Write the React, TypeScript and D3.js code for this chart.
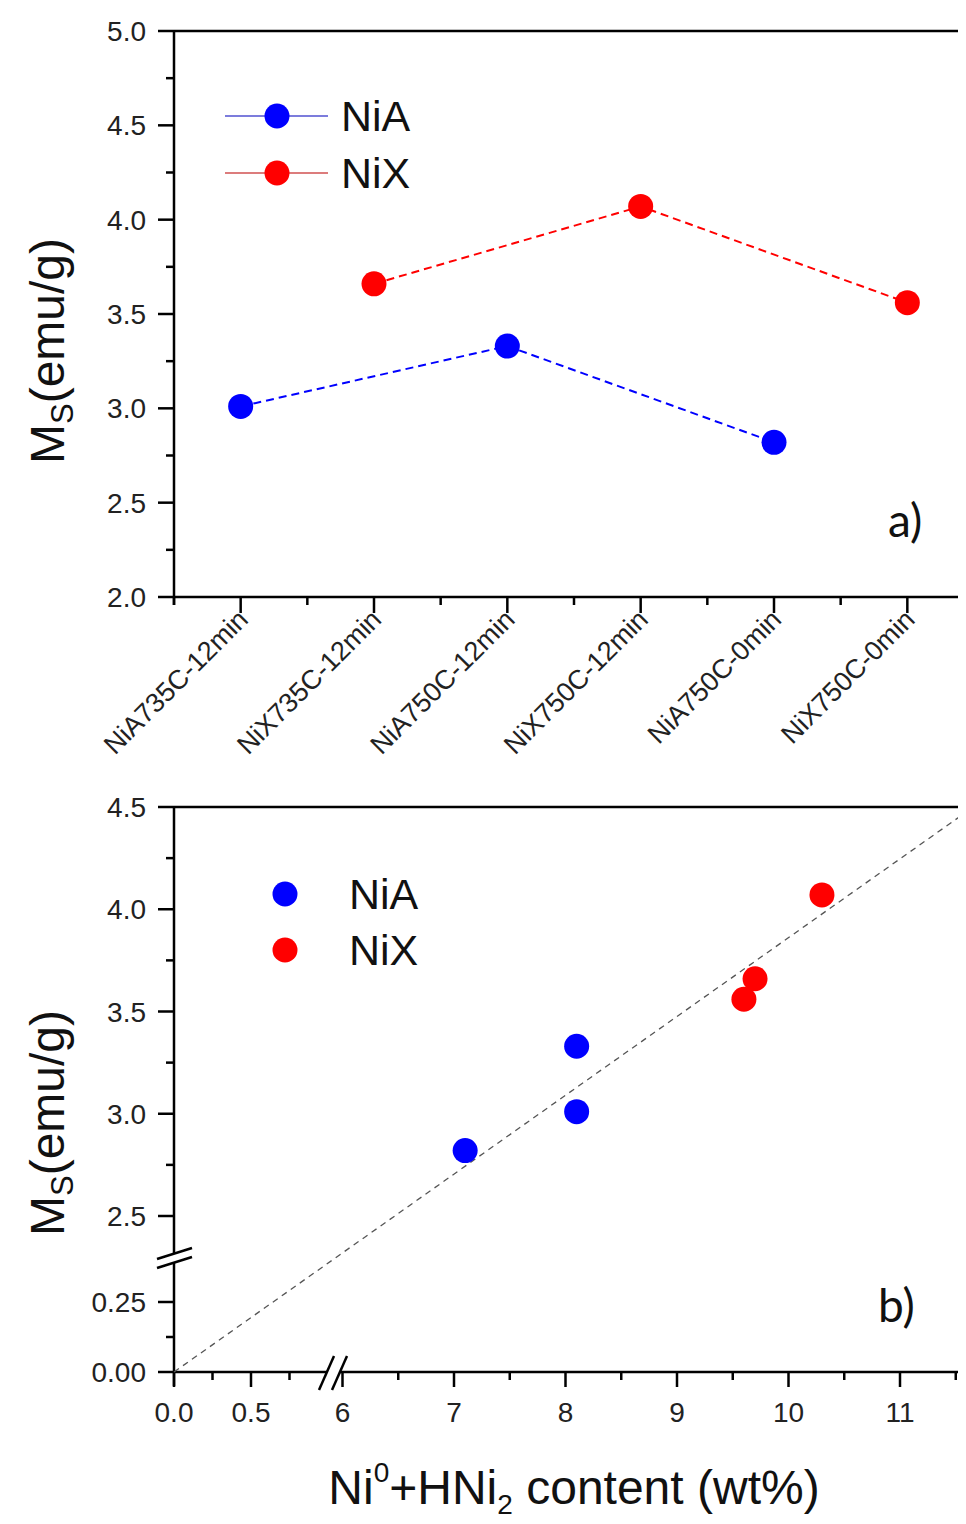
import React from "react";
import * as d3 from "d3";

// ---- data ----
const categories = [
  "NiA735C-12min",
  "NiX735C-12min",
  "NiA750C-12min",
  "NiX750C-12min",
  "NiA750C-0min",
  "NiX750C-0min",
];
const niaCatIdx = [1, 3, 5];
const niaMs = [3.01, 3.33, 2.82];
const nixCatIdx = [2, 4, 6];
const nixMs = [3.66, 4.07, 3.56];

const topYTicks = [2.0, 2.5, 3.0, 3.5, 4.0, 4.5, 5.0];

const niaContent = [8.1, 8.1, 7.1];
const niaMsB = [3.33, 3.01, 2.82];
const nixContent = [10.3, 9.7, 9.6];
const nixMsB = [4.07, 3.66, 3.56];

const fitSlope = 0.386;
const bottomYHighTicks = [2.5, 3.0, 3.5, 4.0, 4.5];
const bottomYLowTicks = [0.0, 0.25];
const bottomXLowTicks = [0.0, 0.5];
const bottomXHighTicks = [6, 7, 8, 9, 10, 11];

const BLUE = "#0000ff";
const RED = "#ff0000";
const FONT = "Arial, 'Liberation Sans', sans-serif";

export default function App() {
  // ---- top panel scales ----
  const xTop = d3.scaleLinear().domain([0.5, 6.5]).range([174, 974]);
  const yTop = d3.scaleLinear().domain([2, 5]).range([597, 31]);

  // ---- bottom panel scales (broken axes) ----
  const yHigh = d3.scaleLinear().domain([2.5, 4.5]).range([1216, 807]);
  const yLow = d3.scaleLinear().domain([0, 0.25]).range([1372, 1302]);
  const xLow = d3.scaleLinear().domain([0, 0.5]).range([174, 251]);
  const xHigh = d3.scaleLinear().domain([6, 11]).range([342.5, 900]);

  const lineTop = d3
    .line<[number, number]>()
    .x((d) => xTop(d[0]))
    .y((d) => yTop(d[1]));

  const niaPts: [number, number][] = niaCatIdx.map((c, i) => [c, niaMs[i]]);
  const nixPts: [number, number][] = nixCatIdx.map((c, i) => [c, nixMs[i]]);

  const axisW = 2.5;
  const R = 12.5;

  // minor ticks
  const topYMinor = d3.range(2.25, 5, 0.5);
  const topXMinor = d3.range(0.5, 6.6, 1);
  const botYHighMinor = [2.75, 3.25, 3.75, 4.25];
  const botYLowMinor = [0.125];
  const botXLowMinor = [0.25, 0.75];
  const botXHighMinor = [6.5, 7.5, 8.5, 9.5, 10.5, 11.5];

  const fitX0 = 0;
  const fitX1 = 11.75;

  return (
    <svg width={958} height={1516} style={{ display: "block" }} fontFamily={FONT}>
      <rect x={0} y={0} width={958} height={1516} fill="#fff" />
      <g transform="translate(-8,-8)">
        {/* ================= TOP PANEL ================= */}
        <line x1={174} x2={974} y1={yTop(5)} y2={yTop(5)} stroke="#000" strokeWidth={axisW} />
        <line x1={174} x2={974} y1={yTop(2)} y2={yTop(2)} stroke="#000" strokeWidth={axisW} />
        <line x1={174} x2={174} y1={yTop(5)} y2={yTop(2) + 8} stroke="#000" strokeWidth={axisW} />
        {topYTicks.map((t) => (
          <g key={"ty" + t}>
            <line x1={158} x2={174} y1={yTop(t)} y2={yTop(t)} stroke="#000" strokeWidth={axisW} />
            <text x={146} y={yTop(t)} dy="0.36em" textAnchor="end" fontSize={28} fill="#222">
              {t.toFixed(1)}
            </text>
          </g>
        ))}
        {topYMinor.map((t) => (
          <line key={"tym" + t} x1={166} x2={174} y1={yTop(t)} y2={yTop(t)} stroke="#000" strokeWidth={axisW} />
        ))}
        {categories.map((c, i) => (
          <g key={c}>
            <line x1={xTop(i + 1)} x2={xTop(i + 1)} y1={yTop(2)} y2={yTop(2) + 16} stroke="#000" strokeWidth={axisW} />
            <text
              transform={`translate(${xTop(i + 1) + 9},${yTop(2) + 24}) rotate(-45)`}
              textAnchor="end"
              fontSize={27}
              fill="#222"
            >
              {c}
            </text>
          </g>
        ))}
        {topXMinor.map((t) => (
          <line key={"txm" + t} x1={xTop(t)} x2={xTop(t)} y1={yTop(2)} y2={yTop(2) + 8} stroke="#000" strokeWidth={axisW} />
        ))}
        <path d={lineTop(niaPts) || ""} fill="none" stroke={BLUE} strokeWidth={2} strokeDasharray="8,5" />
        <path d={lineTop(nixPts) || ""} fill="none" stroke={RED} strokeWidth={2} strokeDasharray="8,5" />
        {niaPts.map((p, i) => (
          <circle key={"na" + i} cx={xTop(p[0])} cy={yTop(p[1])} r={R} fill={BLUE} />
        ))}
        {nixPts.map((p, i) => (
          <circle key={"nx" + i} cx={xTop(p[0])} cy={yTop(p[1])} r={R} fill={RED} />
        ))}
        {/* legend */}
        <line x1={225} x2={328} y1={116} y2={116} stroke="#5050d0" strokeWidth={1.5} />
        <circle cx={277} cy={116} r={R} fill={BLUE} />
        <text x={341} y={116} dy="0.36em" fontSize={43} fill="#111">NiA</text>
        <line x1={225} x2={328} y1={173} y2={173} stroke="#d05050" strokeWidth={1.5} />
        <circle cx={277} cy={173} r={R} fill={RED} />
        <text x={341} y={173} dy="0.36em" fontSize={43} fill="#111">NiX</text>
        <text x={888} y={537} fontSize={46} fontFamily="Lato, 'Open Sans', sans-serif" fill="#111">a)</text>
        <text transform="translate(64,351) rotate(-90)" textAnchor="middle" fontSize={48} fill="#111">
          M<tspan fontSize={31} dy={9}>S</tspan><tspan dy={-9}>(emu/g)</tspan>
        </text>

        {/* ================= BOTTOM PANEL ================= */}
        <line x1={174} x2={974} y1={yHigh(4.5)} y2={yHigh(4.5)} stroke="#000" strokeWidth={axisW} />
        <line x1={174} x2={174} y1={yHigh(4.5)} y2={1253} stroke="#000" strokeWidth={axisW} />
        <line x1={174} x2={174} y1={1262} y2={yLow(0) + 14} stroke="#000" strokeWidth={axisW} />
        <line x1={157} x2={192} y1={1259} y2={1248} stroke="#000" strokeWidth={2.5} />
        <line x1={157} x2={192} y1={1268} y2={1257} stroke="#000" strokeWidth={2.5} />
        <line x1={174} x2={327} y1={yLow(0)} y2={yLow(0)} stroke="#000" strokeWidth={axisW} />
        <line x1={340} x2={974} y1={yLow(0)} y2={yLow(0)} stroke="#000" strokeWidth={axisW} />
        <line x1={319} x2={334} y1={1390} y2={1356} stroke="#000" strokeWidth={2.5} />
        <line x1={332} x2={347} y1={1390} y2={1356} stroke="#000" strokeWidth={2.5} />
        {bottomYHighTicks.map((t) => (
          <g key={"byh" + t}>
            <line x1={158} x2={174} y1={yHigh(t)} y2={yHigh(t)} stroke="#000" strokeWidth={axisW} />
            <text x={146} y={yHigh(t)} dy="0.36em" textAnchor="end" fontSize={28} fill="#222">
              {t.toFixed(1)}
            </text>
          </g>
        ))}
        {botYHighMinor.map((t) => (
          <line key={"byhm" + t} x1={166} x2={174} y1={yHigh(t)} y2={yHigh(t)} stroke="#000" strokeWidth={axisW} />
        ))}
        {bottomYLowTicks.map((t) => (
          <g key={"byl" + t}>
            <line x1={158} x2={174} y1={yLow(t)} y2={yLow(t)} stroke="#000" strokeWidth={axisW} />
            <text x={146} y={yLow(t)} dy="0.36em" textAnchor="end" fontSize={28} fill="#222">
              {t.toFixed(2)}
            </text>
          </g>
        ))}
        {botYLowMinor.map((t) => (
          <line key={"bylm" + t} x1={166} x2={174} y1={yLow(t)} y2={yLow(t)} stroke="#000" strokeWidth={axisW} />
        ))}
        {bottomXLowTicks.map((t) => (
          <g key={"bxl" + t}>
            <line x1={xLow(t)} x2={xLow(t)} y1={yLow(0)} y2={yLow(0) + 15} stroke="#000" strokeWidth={axisW} />
            <text x={xLow(t)} y={yLow(0) + 50} textAnchor="middle" fontSize={28} fill="#222">
              {t.toFixed(1)}
            </text>
          </g>
        ))}
        {botXLowMinor.map((t) => (
          <line key={"bxlm" + t} x1={xLow(t)} x2={xLow(t)} y1={yLow(0)} y2={yLow(0) + 8} stroke="#000" strokeWidth={axisW} />
        ))}
        {bottomXHighTicks.map((t) => (
          <g key={"bxh" + t}>
            <line x1={xHigh(t)} x2={xHigh(t)} y1={yLow(0)} y2={yLow(0) + 15} stroke="#000" strokeWidth={axisW} />
            <text x={xHigh(t)} y={yLow(0) + 50} textAnchor="middle" fontSize={28} fill="#222">
              {t}
            </text>
          </g>
        ))}
        {botXHighMinor.map((t) => (
          <line key={"bxhm" + t} x1={xHigh(t)} x2={xHigh(t)} y1={yLow(0)} y2={yLow(0) + 8} stroke="#000" strokeWidth={axisW} />
        ))}
        <line
          x1={xLow(fitX0)}
          y1={yLow(fitSlope * fitX0)}
          x2={xHigh(fitX1)}
          y2={yHigh(fitSlope * fitX1)}
          stroke="#555"
          strokeWidth={1.3}
          strokeDasharray="6,5"
        />
        {niaContent.map((x, i) => (
          <circle key={"bna" + i} cx={xHigh(x)} cy={yHigh(niaMsB[i])} r={R} fill={BLUE} />
        ))}
        {nixContent.map((x, i) => (
          <circle key={"bnx" + i} cx={xHigh(x)} cy={yHigh(nixMsB[i])} r={R} fill={RED} />
        ))}
        <circle cx={285} cy={894} r={R} fill={BLUE} />
        <text x={349} y={894} dy="0.36em" fontSize={43} fill="#111">NiA</text>
        <circle cx={285} cy={950} r={R} fill={RED} />
        <text x={349} y={950} dy="0.36em" fontSize={43} fill="#111">NiX</text>
        <text x={878} y={1322} fontSize={46} fontFamily="Lato, 'Open Sans', sans-serif" fill="#111">b)</text>
        <text transform="translate(64,1123) rotate(-90)" textAnchor="middle" fontSize={48} fill="#111">
          M<tspan fontSize={31} dy={9}>S</tspan><tspan dy={-9}>(emu/g)</tspan>
        </text>
        <text x={574} y={1504} textAnchor="middle" fontSize={48} fill="#111">
          Ni<tspan fontSize={28} dy={-22}>0</tspan>
          <tspan dy={22}>+HNi</tspan>
          <tspan fontSize={28} dy={10}>2</tspan>
          <tspan dy={-10}> content (wt%)</tspan>
        </text>
      </g>
    </svg>
  );
}
